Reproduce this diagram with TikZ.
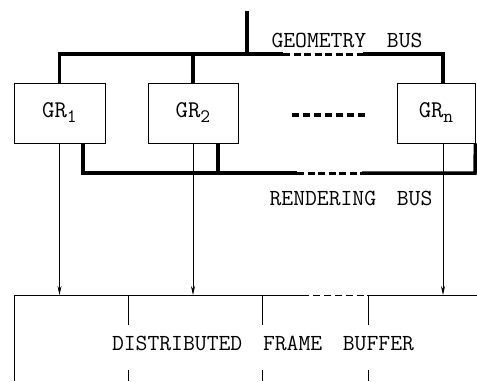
\documentclass[tikz,border=0pt]{standalone}
\usetikzlibrary{positioning,arrows.meta}

\newcommand{\grsub}[1]{\raisebox{-5pt}{\fontsize{19}{22}\selectfont #1}}

\begin{document}
\begin{tikzpicture}[x=1pt,y=-1pt,
    grbox/.style={draw,line width=0.8pt,minimum height=60pt,inner sep=0pt,
        font=\fontsize{24}{28}\selectfont\ttfamily},
    bus/.style={line width=3.5pt},
    gap/.style={line width=3pt,dash pattern=on 7pt off 3.5pt},
    wire/.style={line width=0.7pt},
    lbl/.style={inner sep=0pt,font=\fontsize{23}{26}\selectfont\ttfamily}]
    \useasboundingbox (0,0) rectangle (477,381);

    \node[grbox,minimum width=91pt] (gr1) at (59.5,113) {GR\grsub{1}};
    \node[grbox,minimum width=90pt] (gr2) at (193,113)  {GR\grsub{2}};
    \node[grbox,minimum width=78pt] (grn) at (436,113)  {GR\grsub{n}};

    \coordinate (top)  at (247,11);
    \coordinate (gb)   at (247,54);
    \coordinate (gd1)  at (283,54);
    \coordinate (gd2)  at (363,54);
    \coordinate (gn)   at (443,54);
    \coordinate (r1)   at (83,173);
    \coordinate (r2)   at (218,173);
    \coordinate (rd1)  at (297,173);
    \coordinate (rd2)  at (362,173);
    \coordinate (rn)   at (475,173);
    \coordinate (dot1) at (292,115);
    \coordinate (dot2) at (368,115);
    \coordinate (fb)   at (14,295);
    \coordinate (fbb)  at (14,381);
    \coordinate (fbd1) at (302,295);
    \coordinate (fbd2) at (367,295);
    \coordinate (fbe)  at (477,295);

    % geometry bus
    \draw[bus] (top) -- (gb);
    \draw[bus] (gr1.north) |- (gd1);
    \draw[bus] (gr2.north) -- (gr2.north |- gb);
    \draw[gap] (gd1) -- (gd2);
    \draw[bus] (gd2) -| (gn |- grn.north);
    \node[lbl] (geom) at (347,40) {GEOMETRY\hspace{0.9em}BUS};

    \draw[gap,line width=3.5pt,dash pattern=on 7pt off 4pt] (dot1) -- (dot2);

    % rendering bus
    \draw[bus] (r1 |- gr1.south) -- (r1) -- (rd1);
    \draw[bus] (r2 |- gr2.south) -- (r2);
    \draw[gap] (rd1) -- (rd2);
    \draw[bus] (rd2) -- (rn) -- (grn.south east);
    \node[lbl] (rend) at (351,198) {RENDERING\hspace{0.9em}BUS};

    % frame buffer
    \draw[wire] (fbb) -- (fb) -- (fbd1);
    \draw[wire,dash pattern=on 7pt off 4pt] (fbd1) -- (fbd2);
    \draw[wire] (fbd2) -- (fbe);
    \foreach \x in {128,262,368} {
        \draw[wire] (\x,295) -- (\x,325);
        \draw[wire] (\x,370) -- (\x,381);
    }
    \node[lbl] (dfb) at (263,343) {DISTRIBUTED\hspace{0.9em}FRAME\hspace{0.9em}BUFFER};

    \draw[wire,-{Stealth[length=9pt,width=4pt]}] (gr1.south) -- (gr1.south |- fb);
    \draw[wire,-{Stealth[length=9pt,width=4pt]}] (gr2.south) -- (gr2.south |- fb);
    \draw[wire,-{Stealth[length=9pt,width=4pt]}] (gn |- grn.south) -- (gn |- fb);
\end{tikzpicture}
\end{document}
